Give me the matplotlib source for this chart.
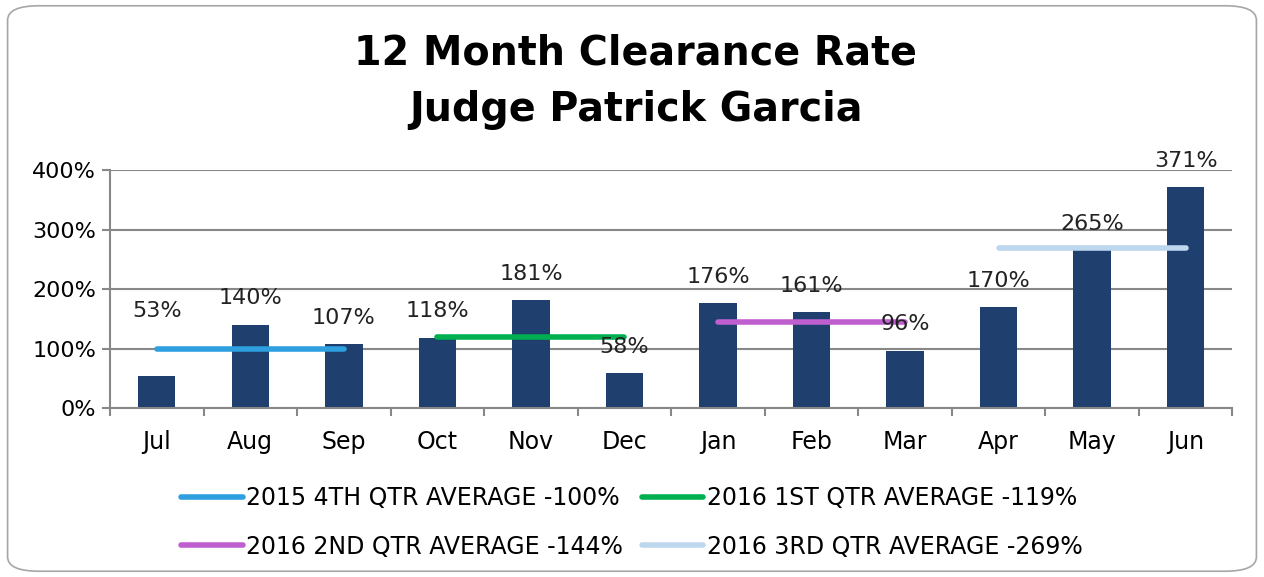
import numpy as np
import matplotlib.pyplot as plt
from matplotlib.patches import FancyBboxPatch

months = ['Jul', 'Aug', 'Sep', 'Oct', 'Nov', 'Dec', 'Jan', 'Feb', 'Mar', 'Apr', 'May', 'Jun']
rates = [53, 140, 107, 118, 181, 58, 176, 161, 96, 170, 265, 371]
qtr_labels = ['2015 4TH QTR AVERAGE -100%', '2016 1ST QTR AVERAGE -119%',
              '2016 2ND QTR AVERAGE -144%', '2016 3RD QTR AVERAGE -269%']
qtr_values = [100, 119, 144, 269]
qtr_colors = ['#2E9FDF', '#00B050', '#BF5FCF', '#BDD7EE']

plt.rcParams['font.family'] = ['DejaVu Sans']

fig = plt.figure(figsize=(12.64, 5.77), dpi=100)
fig.patches.append(FancyBboxPatch((0.006, 0.01), 0.988, 0.98, boxstyle='round,pad=0,rounding_size=0.025',
                                  transform=fig.transFigure, fill=False, edgecolor='#A6A6A6', linewidth=1.2))
ax = fig.add_axes([0.087, 0.293, 0.888, 0.412])

x = np.arange(len(months))
ax.bar(x, rates, width=0.4, color='#1F3F6E', zorder=2)

for i, v in enumerate(rates):
    off = 47 if i == 0 else 19
    ax.annotate('%d%%' % v, (x[i], v), xytext=(0, off), textcoords='offset points',
                ha='center', va='center', fontsize=16, color='#222222', zorder=4)

lines = []
for q in range(4):
    xs = x[q * 3:q * 3 + 3]
    ln, = ax.plot([xs[0], xs[-1]], [qtr_values[q]] * 2, color=qtr_colors[q], lw=4,
                  solid_capstyle='round', label=qtr_labels[q], zorder=3)
    lines.append(ln)

ax.set_xlim(-0.5, len(months) - 0.5)
ax.set_ylim(0, 400)
ax.set_yticks([0, 100, 200, 300, 400])
ax.set_yticklabels(['%d%%' % t for t in [0, 100, 200, 300, 400]], fontsize=16)
ax.set_xticks(x)
ax.set_xticklabels(months, fontsize=17)
ax.set_xticks(np.arange(-0.5, len(months)), minor=True)
ax.tick_params(axis='x', which='major', length=0, pad=16)
ax.tick_params(axis='x', which='minor', length=6, color='#888888', width=1.5)
ax.tick_params(axis='y', length=6, color='#888888', width=1.5, pad=4)
ax.grid(axis='y', color='#888888', lw=1.5, zorder=0)
for s in ['top', 'right']:
    ax.spines[s].set_visible(False)
for s in ['left', 'bottom']:
    ax.spines[s].set_color('#888888')
    ax.spines[s].set_linewidth(1.5)

fig.text(0.503, 0.858, '12 Month Clearance Rate\nJudge Patrick Garcia', fontsize=28.5, fontweight='bold',
         ha='center', va='center', linespacing=1.55)

order = [0, 2, 1, 3]
fig.legend([lines[i] for i in order], [qtr_labels[i] for i in order],
           loc='center', bbox_to_anchor=(0.5, 0.095), ncol=2, frameon=False,
           prop={'size': 17}, handlelength=2.6, handletextpad=0.15,
           columnspacing=0.8, labelspacing=1.05)

plt.savefig('out.png', dpi=100)
plt.close()
